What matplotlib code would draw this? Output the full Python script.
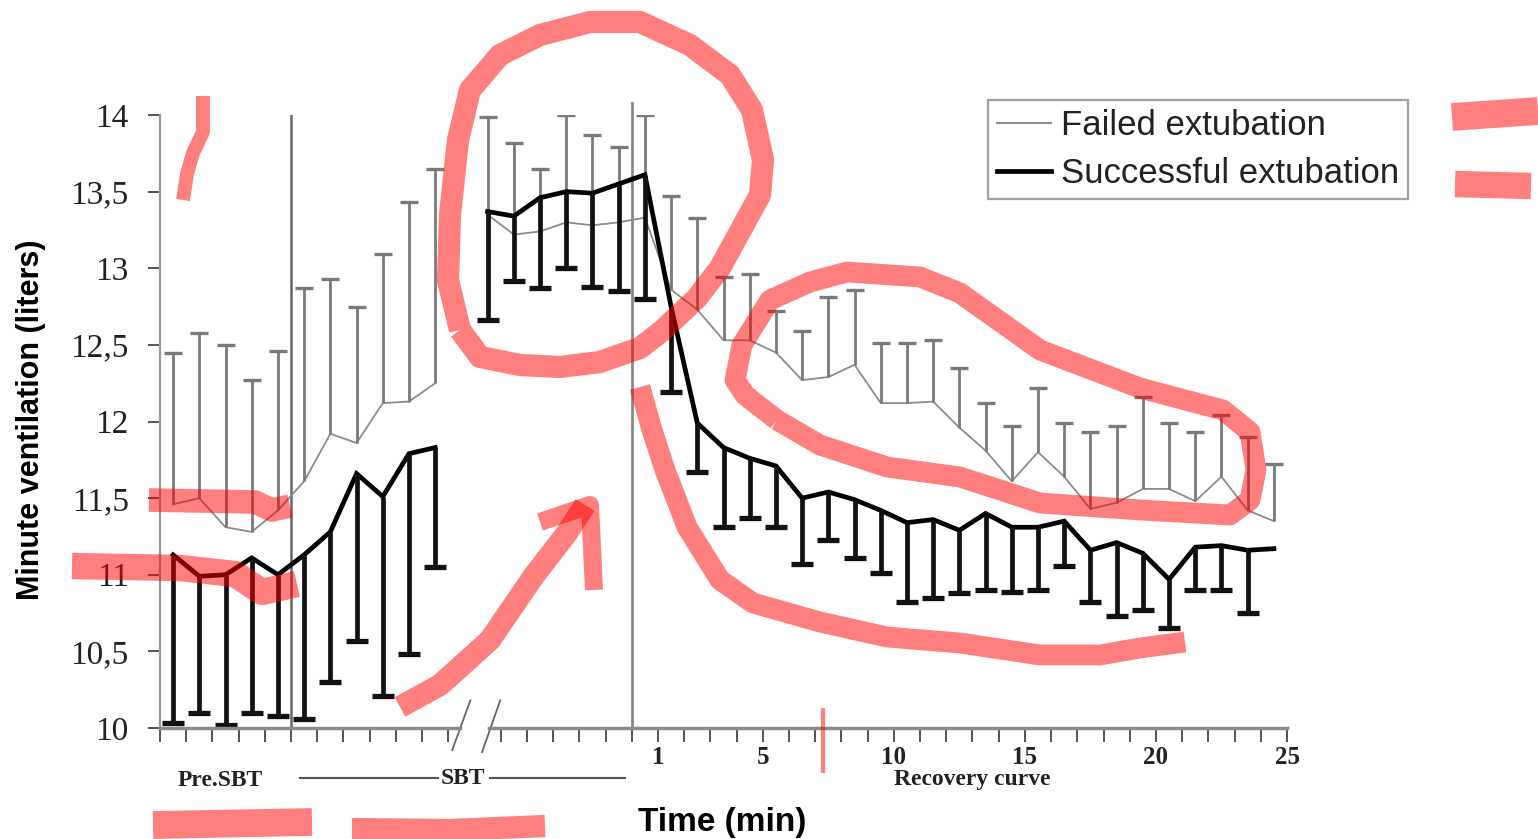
import matplotlib.pyplot as plt
import numpy as np
from matplotlib.lines import Line2D

# minute ventilation (liters)
# pre-SBT (5 points) + first part of the SBT (6 points)
fail_a    = [11.46, 11.50, 11.31, 11.28, 11.42, 11.61, 11.92, 11.86, 12.12, 12.13, 12.25]
fail_a_up = [12.45, 12.58, 12.50, 12.27, 12.46, 12.87, 12.93, 12.75, 13.09, 13.43, 13.65]
succ_a    = [11.13, 10.99, 11.00, 11.11, 11.00, 11.13, 11.28, 11.66, 11.51, 11.79, 11.83]
succ_a_lo = [10.03, 10.10, 10.02, 10.10, 10.08, 10.06, 10.30, 10.57, 10.21, 10.48, 11.05]

# end of the SBT (7 points) + recovery curve (24 points)
fail_b    = [13.35, 13.22, 13.24, 13.30, 13.28, 13.30, 13.33,
             12.86, 12.73, 12.53, 12.53, 12.45, 12.27, 12.29, 12.37, 12.12, 12.12, 12.13, 11.96,
             11.81, 11.61, 11.80, 11.64, 11.43, 11.47, 11.56, 11.56, 11.48, 11.64, 11.42, 11.35]
fail_b_up = [13.99, 13.82, 13.65, 14.00, 13.87, 13.79, 14.00,
             13.47, 13.33, 12.94, 12.96, 12.72, 12.59, 12.81, 12.86, 12.51, 12.51, 12.53, 12.35,
             12.12, 11.97, 12.22, 11.99, 11.93, 11.97, 12.16, 11.99, 11.93, 12.04, 11.90, 11.72]
succ_b    = [13.37, 13.34, 13.46, 13.50, 13.49, 13.55, 13.61,
             12.75, 11.99, 11.83, 11.76, 11.71, 11.50, 11.54, 11.49, 11.42, 11.34, 11.36, 11.29,
             11.40, 11.31, 11.31, 11.35, 11.16, 11.21, 11.14, 10.97, 11.18, 11.19, 11.16, 11.17]
succ_b_lo = [12.66, 12.92, 12.87, 13.00, 12.88, 12.85, 12.80,
             12.19, 11.67, 11.31, 11.37, 11.31, 11.07, 11.23, 11.11, 11.01, 10.82, 10.85, 10.88,
             10.90, 10.89, 10.90, 11.06, 10.82, 10.73, 10.77, 10.65, 10.90, 10.90, 10.75, np.nan]

x_a = np.arange(0, 11)
x_b = np.arange(12, 43)

yticks = [10, 10.5, 11, 11.5, 12, 12.5, 13, 13.5, 14]
ytick_labels = ['10', '10,5', '11', '11,5', '12', '12,5', '13', '13,5', '14']
min_ticks = [18.5, 22.5, 27.5, 32.5, 37.5, 42.5]
min_labels = ['1', '5', '10', '15', '20', '25']

W, H = 1538, 839
fig = plt.figure(figsize=(W / 100, H / 100), dpi=100)
ax = fig.add_axes([160 / W, 1 - 728 / H, (1287 - 160) / W, (728 - 115) / H])
ax.set_xlim(-0.5, 42.5)
ax.set_ylim(10, 14)

gray = '#8c8c8c'
gbar = '#7a7a7a'
for xs, m, up in [(x_a, fail_a, fail_a_up), (x_b, fail_b, fail_b_up)]:
    ax.plot(xs, m, color=gray, lw=1.3, zorder=3)
    ax.vlines(xs, m, up, color=gbar, lw=2.0, zorder=3)
    ax.plot(xs, up, ls='none', marker='_', ms=13, mew=2.4, color=gbar, zorder=3)
for xs, m, lo in [(x_a, succ_a, succ_a_lo), (x_b, succ_b, succ_b_lo)]:
    m = np.array(m); lo = np.array(lo)
    ok = ~np.isnan(lo)
    ax.plot(xs, m, color='black', lw=3.4, zorder=4, solid_joinstyle='miter')
    ax.vlines(xs[ok], m[ok], lo[ok], color='#111111', lw=3.4, zorder=4)
    ax.plot(xs[ok], lo[ok], ls='none', marker='_', ms=16, mew=3.8, color='#111111', zorder=4)

# phase separators
ax.plot([4.5, 4.5], [10, 14], color='#666666', lw=1.8, zorder=2)
ax.plot([17.5, 17.5], [10, 14.08], color='#888888', lw=2.0, zorder=2, clip_on=False)

# broken x axis
ax.plot([-0.5, 10.95], [10, 10], color='#8a8a8a', lw=2.5, clip_on=False, zorder=5)
ax.plot([12.05, 42.5], [10, 10], color='#8a8a8a', lw=2.5, clip_on=False, zorder=5)
ax.plot([10.65, 11.34], [9.856, 10.18], color='#666666', lw=1.3, clip_on=False)
ax.plot([11.79, 12.48], [9.843, 10.18], color='#666666', lw=1.3, clip_on=False)

for s in ['top', 'right', 'bottom']:
    ax.spines[s].set_visible(False)
ax.spines['left'].set_color('#999999')
ax.spines['left'].set_linewidth(1.6)

ax.set_yticks(yticks)
ax.set_yticklabels(ytick_labels, family='Liberation Serif', fontsize=24, color='#222222')
ax.tick_params(axis='y', direction='out', length=8.5, width=1.4, color='#555555', pad=14)

xt = list(np.arange(-0.5, 11, 1)) + list(np.arange(12.5, 43, 1))
ax.set_xticks(xt)
ax.set_xticklabels([min_labels[min_ticks.index(t)] if t in min_ticks else '' for t in xt],
                   family='Liberation Serif', fontweight='bold', fontsize=18, color='#222222')
ax.tick_params(axis='x', direction='out', length=10, width=1.4, color='#555555', pad=3)

handles = [Line2D([], [], color=gray, lw=1.5), Line2D([], [], color='black', lw=3.4)]
leg = ax.legend(handles, ['Failed extubation', 'Successful extubation'],
                loc='upper left', bbox_to_anchor=(988 / W, 1 - 100 / H),
                bbox_transform=fig.transFigure, borderaxespad=0,
                prop={'family': 'Liberation Sans', 'size': 25},
                frameon=True, fancybox=False, edgecolor='#888888',
                handlelength=1.55, handletextpad=0.3, borderpad=0.25, labelspacing=0.45)
leg.get_frame().set_linewidth(1.6)
for t in leg.get_texts():
    t.set_color('#222222')

fig.text(31 / W, 1 - 420 / H, 'Minute ventilation (liters)', rotation=90, ha='center', va='center',
         family='Liberation Sans', fontweight='bold', fontsize=22)
fig.text(722 / W, 1 - 822 / H, 'Time (min)', ha='center', va='center',
         family='Liberation Sans', fontweight='bold', fontsize=24)

# overlay in pixel coordinates for phase labels and the red pen marks
ov = fig.add_axes([0, 0, 1, 1], zorder=10)
ov.set_xlim(0, W)
ov.set_ylim(H, 0)
ov.axis('off')

for txt, px, py in [('Pre.SBT', 220, 780), ('SBT', 463, 778), ('Recovery curve', 972, 780)]:
    ov.text(px, py, txt, ha='center', va='center', family='Liberation Serif',
            fontweight='bold', fontsize=17, color='#222222')
ov.plot([300, 438], [778, 778], color='#555555', lw=1.5)
ov.plot([490, 625], [778, 778], color='#555555', lw=1.5)

pen = dict(color='red', alpha=0.5, solid_capstyle='butt', solid_joinstyle='round')
strokes = [
    ([203, 203, 193, 187, 183], [96, 132, 153, 174, 200], 10),
    ([149, 255, 272, 290], [500, 502, 510, 506], 17),
    ([72, 180, 235, 262, 297], [566, 568, 574, 592, 584], 19),
    ([460, 448, 450, 458, 470, 500, 540, 590, 640, 690, 730, 752, 763, 760, 737, 720, 697, 663,
      640, 600, 560, 520, 480, 460],
     [330, 280, 215, 140, 90, 55, 35, 22, 22, 45, 75, 110, 160, 195, 237, 268, 298, 330,
      348, 362, 367, 365, 357, 330], 16),
    ([400, 440, 490, 533, 567, 585], [707, 685, 640, 577, 533, 505], 16),
    ([540, 590, 594], [522, 505, 590], 13),
    ([640, 652, 665, 687, 720, 753, 820, 887, 960, 1040, 1100, 1140, 1185],
     [387, 430, 470, 527, 580, 603, 622, 637, 643, 655, 655, 648, 642], 15),
    ([777, 745, 735, 742, 770, 810, 847, 920, 960, 1040, 1140, 1223, 1250, 1256, 1250, 1230,
      1140, 1040, 960, 887, 820, 777],
     [420, 395, 380, 345, 300, 282, 272, 277, 293, 350, 388, 410, 432, 470, 500, 515,
      510, 503, 477, 467, 445, 420], 15),
    ([823, 823], [708, 773], 3),
    ([153, 312], [825, 822], 20),
    ([352, 450, 545], [829, 830, 826], 16),
    ([1452, 1538], [117, 111], 20),
    ([1455, 1531], [184, 186], 19),
]
for xs, ys, lw in strokes:
    ov.plot(xs, ys, lw=lw, **pen)

fig.savefig('out.png', dpi=100)
